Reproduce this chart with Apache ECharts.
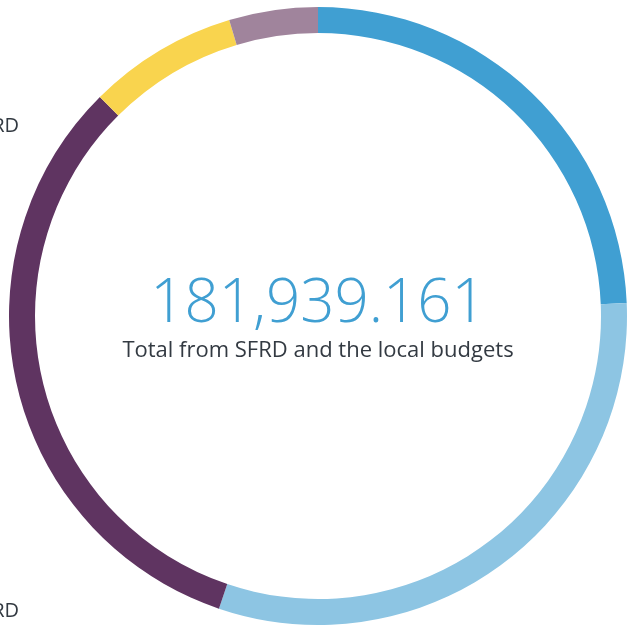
<!DOCTYPE html>
<html>
<head>
<meta charset="utf-8">
<script src="https://cdn.jsdelivr.net/npm/echarts@6/dist/echarts.min.js"></script>
<style>
  html, body { margin: 0; padding: 0; background: #fff; }
  #chart { width: 634px; height: 626px; }
</style>
</head>
<body>
<div id="chart"></div>
<script>
// ring segments, clockwise from 12 o'clock
const categories = ['SFRD A', 'SFRD B', 'Local budgets A', 'Local budgets B', 'Other']
const values = [44272, 56148, 58827, 14252, 8440]
const colors = ['#409fd2', '#8dc5e3', '#5f3461', '#f9d44e', '#a0849c']
const totalLabel = '181,939.161'
const subLabel = 'Total from SFRD and the local budgets'
const sideLabels = ['SFRD', 'SFRD']

const chart = echarts.init(document.getElementById('chart'))
chart.setOption({
  animation: false,
  graphic: [
    {
      type: 'text',
      x: 318,
      y: 305,
      style: {
        text: totalLabel,
        fill: '#409fd2',
        font: '300 60px "Open Sans", "Noto Sans", sans-serif',
        align: 'center',
        verticalAlign: 'middle'
      }
    },
    {
      type: 'text',
      x: 318,
      y: 351,
      style: {
        text: subLabel,
        fill: '#333a42',
        font: '22px "Open Sans", "Noto Sans", sans-serif',
        align: 'center',
        verticalAlign: 'middle'
      }
    },
    {
      type: 'text',
      x: 19,
      y: 126,
      style: {
        text: sideLabels[0],
        fill: '#333a42',
        font: '20px "Open Sans", "Noto Sans", sans-serif',
        align: 'right',
        verticalAlign: 'middle'
      }
    },
    {
      type: 'text',
      x: 19,
      y: 611,
      style: {
        text: sideLabels[1],
        fill: '#333a42',
        font: '20px "Open Sans", "Noto Sans", sans-serif',
        align: 'right',
        verticalAlign: 'middle'
      }
    }
  ],
  series: [{
    type: 'pie',
    center: [318, 316],
    radius: [283, 309],
    startAngle: 90,
    clockwise: true,
    label: { show: false },
    labelLine: { show: false },
    emphasis: { disabled: true },
    itemStyle: { borderWidth: 0 },
    data: categories.map((name, i) => ({
      name,
      value: values[i],
      itemStyle: { color: colors[i] }
    }))
  }]
})
</script>
</body>
</html>
